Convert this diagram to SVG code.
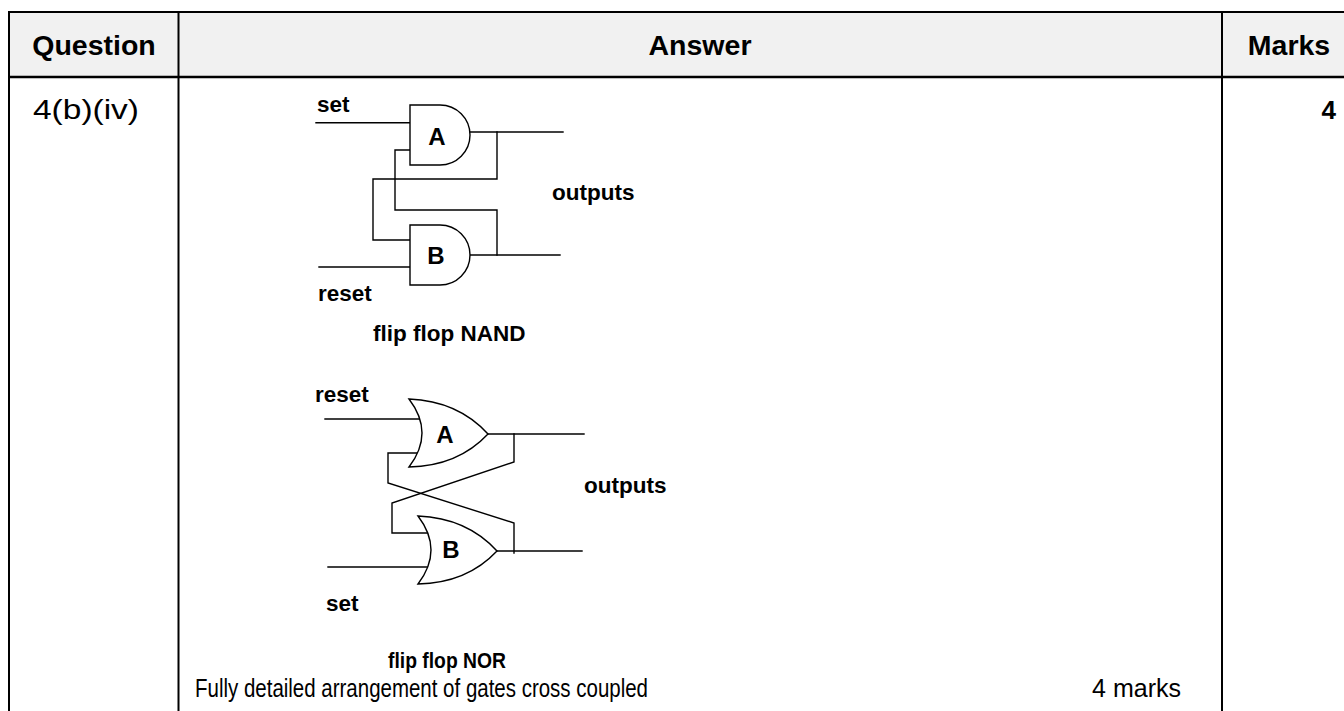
<svg xmlns="http://www.w3.org/2000/svg" width="1344" height="711" viewBox="0 0 1344 711">
<style>
.tl{stroke:#000;stroke-width:2;fill:none}
.w{stroke:#000;stroke-width:1.4;fill:none;stroke-linecap:square}
.g{stroke:#000;stroke-width:1.4;fill:#fff}
.h{font-family:"Liberation Sans",Arial,sans-serif;font-weight:bold;font-size:28.5px;fill:#000}
.t{font-family:"Liberation Sans",Arial,sans-serif;font-size:25px;fill:#000}
.lb{font-family:"Liberation Sans",Arial,sans-serif;font-weight:bold;font-size:22.5px;fill:#000}
.gl{font-family:"Liberation Sans",Arial,sans-serif;font-weight:bold;font-size:24px;fill:#000;text-anchor:middle}
</style>
<rect width="1344" height="711" fill="#fff"/>
<g id="table">
<rect x="9" y="12" width="1335" height="65" fill="#f1f1f1"/>
<line class="tl" x1="8" y1="12" x2="1344" y2="12"/>
<line class="tl" x1="8" y1="77" x2="1344" y2="77" style="stroke-width:2.5"/>
<line class="tl" x1="9" y1="12" x2="9" y2="711"/>
<line class="tl" x1="178.5" y1="12" x2="178.5" y2="711"/>
<line class="tl" x1="1222" y1="12" x2="1222" y2="711"/>
<text class="h" x="94" y="55" text-anchor="middle">Question</text>
<text class="h" x="700" y="55" text-anchor="middle">Answer</text>
<text class="h" x="1289" y="55" text-anchor="middle">Marks</text>
<text class="t" x="33" y="119" style="font-size:27px" textLength="106" lengthAdjust="spacingAndGlyphs">4(b)(iv)</text>
<text class="h" x="1336" y="119" text-anchor="end" style="font-size:26px">4</text>
<text class="t" x="195" y="697" textLength="453" lengthAdjust="spacingAndGlyphs">Fully detailed arrangement of gates cross coupled</text>
<text class="t" x="1181" y="697" text-anchor="end">4 marks</text>
</g>
<g id="nand-flip-flop">
<g id="connectors-nand">
<polyline class="w" points="316,122.7 410,122.7"/>
<polyline class="w" points="319,267 410,267"/>
<polyline class="w" points="469,132 563,132"/>
<polyline class="w" points="469,255 560,255"/>
<polyline class="w" points="410,150 395,150 395,210 497,210 497,255"/>
<polyline class="w" points="497,132 497,179 373,179 373,240 410,240"/>
</g>
<g id="gate-nand-a">
<path class="g" d="M410,105 H440 A30,30 0 0 1 440,165 H410 Z"/>
<text class="gl" x="437" y="145">A</text>
</g>
<g id="gate-nand-b">
<path class="g" d="M410,225 H440 A30,30 0 0 1 440,285 H410 Z"/>
<text class="gl" x="436" y="264">B</text>
</g>
<text class="lb" x="317" y="112">set</text>
<text class="lb" x="318" y="301">reset</text>
<text class="lb" x="552" y="200">outputs</text>
<text class="lb" x="373" y="341">flip flop NAND</text>
</g>
<g id="nor-flip-flop">
<g id="connectors-nor">
<polyline class="w" points="325,419 420,419"/>
<polyline class="w" points="328,567 428,567"/>
<polyline class="w" points="488,434 584,434"/>
<polyline class="w" points="497,551 582,551"/>
<polyline class="w" points="418,453 388,453 388,483 514,523 514,553"/>
<polyline class="w" points="514,434 514,462 392,503 392,533 428,533"/>
</g>
<g id="gate-nor-a">
<path class="g" d="M409,399 Q458,401 488,434 Q458,466 409,467 Q435,433 409,399 Z"/>
<text class="gl" x="445" y="443">A</text>
</g>
<g id="gate-nor-b">
<path class="g" d="M418,516 Q467,518 497,551 Q467,583 418,584 Q444,550 418,516 Z"/>
<text class="gl" x="451" y="558">B</text>
</g>
<text class="lb" x="315" y="402">reset</text>
<text class="lb" x="326" y="611">set</text>
<text class="lb" x="584" y="493">outputs</text>
<text class="lb" x="388" y="668" textLength="118" lengthAdjust="spacingAndGlyphs">flip flop NOR</text>
</g>
</svg>
